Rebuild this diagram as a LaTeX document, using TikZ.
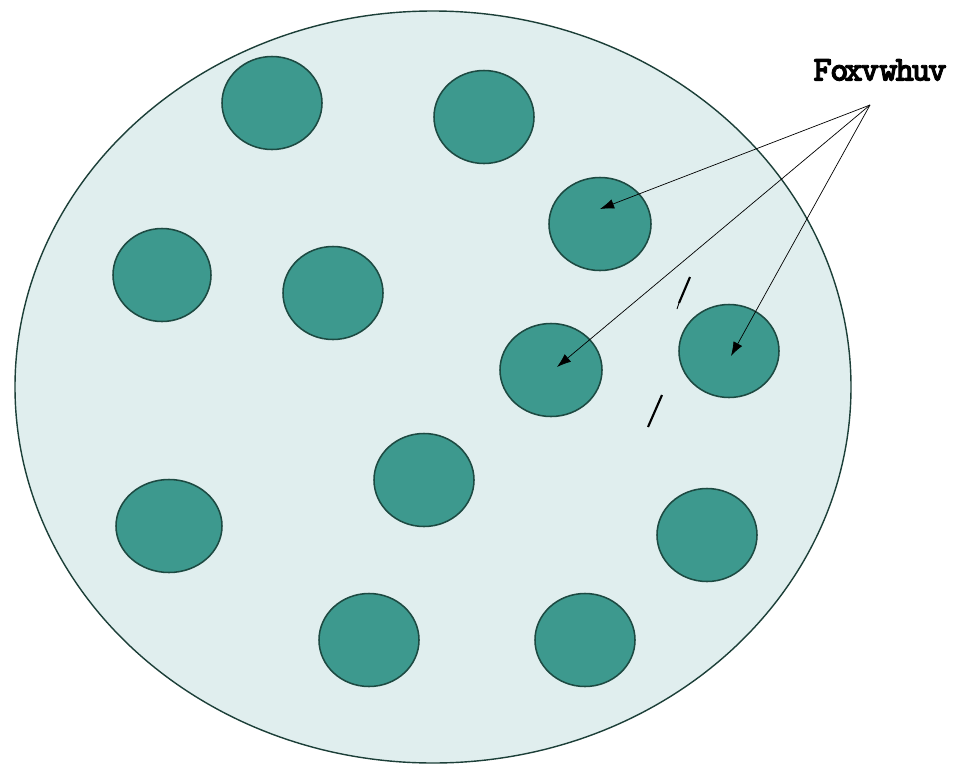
\documentclass[tikz,border=0pt]{standalone}
\usepackage{fontspec}
\newfontfamily\labelfont{lmmonolt10-bold.otf}[FakeBold=2.5]
\usetikzlibrary{shapes.geometric,arrows.meta}
\definecolor{poolfill}{HTML}{E0EEEE}
\definecolor{poolline}{HTML}{1C3F38}
\definecolor{clusterfill}{HTML}{3D998E}
\definecolor{clusterline}{HTML}{1D4A42}
\begin{document}
\begin{tikzpicture}[x=0.025cm,y=-0.025cm,>={Latex[length=10pt,width=7pt]},
  cluster/.style={ellipse,draw=clusterline,fill=clusterfill,line width=1.1pt,minimum width=100*0.025cm,minimum height=93*0.025cm,inner sep=0pt},
  pointer/.style={->,black,line width=0.5pt}]
  \useasboundingbox (0,0) rectangle (961,764);
  \draw[poolline,fill=poolfill,line width=1pt] (433,387) ellipse [x radius=418,y radius=376];
  % clusters
  \node[cluster] (c1) at (272,103) {};
  \node[cluster] (c2) at (484,117) {};
  \node[cluster,minimum width=102*0.025cm] (c3) at (600,224) {};
  \node[cluster,minimum width=98*0.025cm] (c4) at (162,275) {};
  \node[cluster] (c5) at (333,293) {};
  \node[cluster,minimum width=102*0.025cm] (c6) at (551,370) {};
  \node[cluster] (c7) at (729,351) {};
  \node[cluster] (c8) at (424,480) {};
  \node[cluster,minimum width=106*0.025cm] (c9) at (169,526) {};
  \node[cluster] (c10) at (707,535) {};
  \node[cluster] (c11) at (369,640) {};
  \node[cluster] (c12) at (585,640) {};
  % label and arrows
  \node[font=\labelfont\fontsize{25}{28}\selectfont,inner sep=0pt] (lbl) at (880,70) {F\hspace{-0.05em}o\hspace{-0.12em}x\hspace{-0.06em}vw\hspace{-0.06em}h\hspace{-0.06em}u\hspace{-0.06em}v};
  \coordinate (tail) at (870,105);
  \coordinate (h3) at (600,209);
  \coordinate (h6) at (557,367);
  \coordinate (h7) at (731,356);
  \draw[pointer] (tail) -- (h3);
  \draw[pointer] (tail) -- (h6);
  \draw[pointer] (tail) -- (h7);
  % stray marks
  \draw[line width=1.5pt] (690,277) -- (679,303);
  \draw[line width=0.6pt] (679,303) -- (677,309);
  \draw[line width=1.5pt] (662,395) -- (648,427);
\end{tikzpicture}
\end{document}
